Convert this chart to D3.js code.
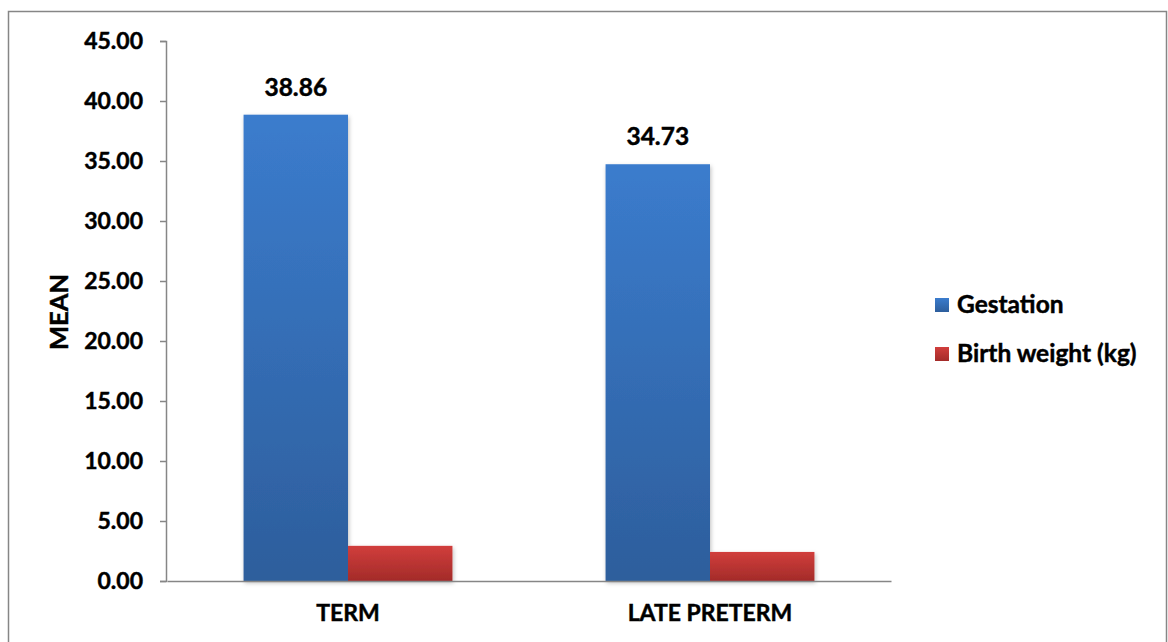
<!DOCTYPE html>
<html><head><meta charset="utf-8">
<script src="https://cdn.jsdelivr.net/npm/d3@7"></script>
<style>body{margin:0;background:#fff}svg{display:block}text{font-family:Lato,"Open Sans",sans-serif;font-weight:bold;fill:#000;stroke:#000;stroke-width:0.45px}</style>
</head><body><svg id="c" width="1168" height="642"></svg>
<script>
const categories = ["TERM", "LATE PRETERM"];
const seriesNames = ["Gestation", "Birth weight (kg)"];
const gestation = [38.86, 34.73];
const birthWeight = [2.93, 2.42];
const yTicks = [0, 5, 10, 15, 20, 25, 30, 35, 40, 45];

const svg = d3.select("#c");
const defs = svg.append("defs");
function grad(id, top, bottom){
  const g = defs.append("linearGradient").attr("id", id).attr("x1",0).attr("y1",0).attr("x2",0).attr("y2",1);
  g.append("stop").attr("offset","0%").attr("stop-color",top);
  g.append("stop").attr("offset","100%").attr("stop-color",bottom);
}
grad("gb","#3B7CCD","#2D5E9C");
grad("gr","#D13E3C","#A32B29");
const f = defs.append("filter").attr("id","sh").attr("x","-10%").attr("y","-10%").attr("width","130%").attr("height","130%");
f.append("feDropShadow").attr("dx",1).attr("dy",2).attr("stdDeviation",2).attr("flood-color","#000").attr("flood-opacity",0.25);

// frame
svg.append("rect").attr("x",8.5).attr("y",11.5).attr("width",1158).attr("height",640)
  .attr("fill","none").attr("stroke","#868686").attr("stroke-width",1.5);

const x0 = d3.scaleBand().domain(categories).range([167, 891]).paddingInner(0.423).paddingOuter(0.2115);
const x1 = d3.scaleBand().domain(seriesNames).range([0, x0.bandwidth()]);
const y = d3.scaleLinear().domain([0, 45]).range([581, 41]);

const data = categories.map((c,i)=>({cat:c, vals:[gestation[i], birthWeight[i]]}));
const fills = ["url(#gb)","url(#gr)"];
const g = svg.append("g").attr("filter","url(#sh)");
data.forEach(d=>{
  d.vals.forEach((v,j)=>{
    g.append("rect").attr("x", x0(d.cat)+x1(seriesNames[j])).attr("y", y(v))
      .attr("width", x1.bandwidth()).attr("height", y(0)-y(v)).attr("fill", fills[j]);
  });
});

// y axis
const ya = svg.append("g").attr("transform","translate(166,0)")
  .call(d3.axisLeft(y).tickValues(yTicks).tickSize(6).tickPadding(17).tickFormat(d3.format(".2f")));
ya.select(".domain").attr("stroke","#868686").attr("stroke-width",1.5);
ya.selectAll(".tick line").attr("stroke","#868686").attr("stroke-width",1.5);
ya.selectAll("text").attr("font-size",23).attr("font-family","Lato").attr("font-weight","bold").attr("fill","#000");

// x axis
const xa = svg.append("g").attr("transform","translate(0,581)")
  .call(d3.axisBottom(x0).tickSize(0).tickPadding(24));
xa.select(".domain").attr("stroke","#868686").attr("stroke-width",1.5);
xa.selectAll("text").attr("font-size",23).attr("font-family","Lato").attr("font-weight","bold").attr("fill","#000");

// data labels
data.forEach(d=>{
  svg.append("text").attr("x", x0(d.cat)+x1(seriesNames[0])+x1.bandwidth()/2)
    .attr("y", y(d.vals[0])-19).attr("text-anchor","middle").attr("font-size",24.5)
    .text(d3.format(".2f")(d.vals[0]));
});

// y title
svg.append("text").attr("transform","translate(68,312) rotate(-90)").attr("text-anchor","middle")
  .attr("font-size",25.5).text("MEAN");

// legend
seriesNames.forEach((s,i)=>{
  const ly = 305 + i*49;
  svg.append("rect").attr("x",935).attr("y",ly-7).attr("width",14).attr("height",14).attr("fill",fills[i]);
  svg.append("text").attr("x",957).attr("y",ly+8).attr("font-size",24.5).text(s);
});
</script></body></html>
